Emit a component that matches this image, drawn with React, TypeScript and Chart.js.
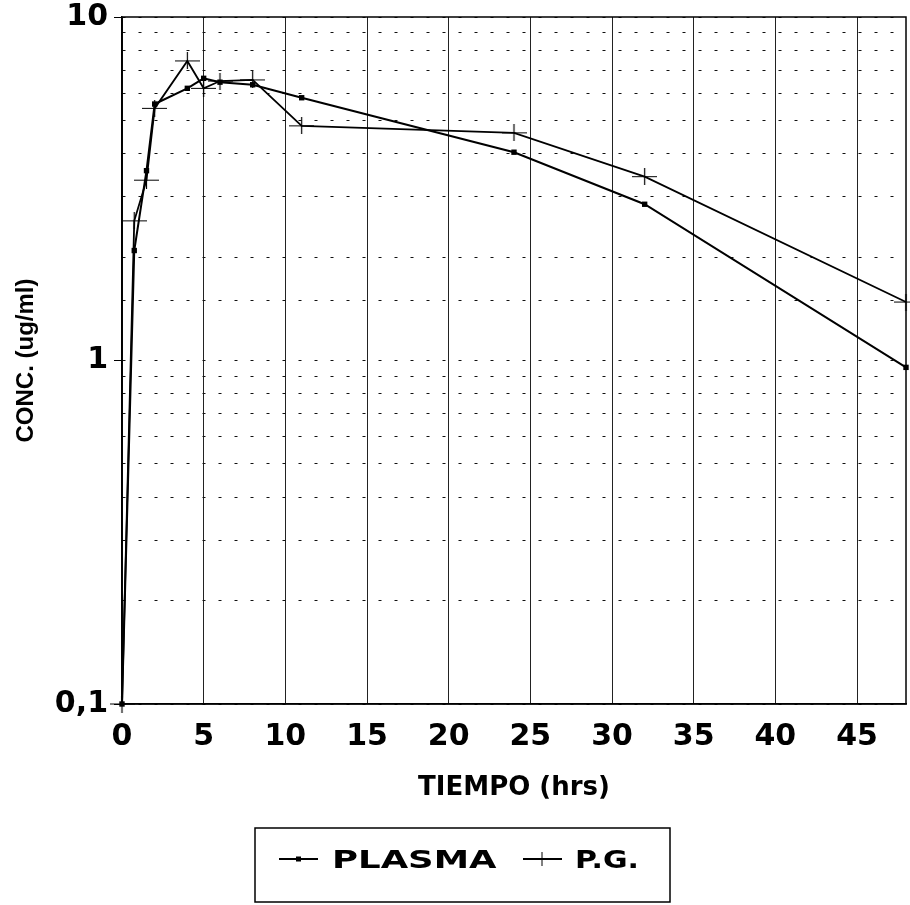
import React, { useEffect, useRef } from 'react';
import { Chart, registerables } from 'chart.js';

Chart.register(...registerables);

// ---- data ----
const timesPlasma = [0, 0.75, 1.5, 2, 4, 5, 6, 8, 11, 24, 32, 48];
const plasmaValues = [0.1, 2.09, 3.57, 5.58, 6.2, 6.63, 6.46, 6.35, 5.82, 4.04, 2.85, 0.955];
const timesPG = [0, 0.75, 1.5, 2, 4, 5, 6, 8, 11, 24, 32, 48];
const pgValues = [0.1, 2.55, 3.35, 5.42, 7.45, 6.2, 6.51, 6.56, 4.82, 4.6, 3.43, 1.48];
const seriesLabels = ['PLASMA', 'P.G.'];
const xMin = 0;
const xMax = 48;
const xStep = 5;
const yMajorTicks = [0.1, 1, 10];
const yMajorLabels = ['0,1', '1', '10'];
const xTitle = 'TIEMPO (hrs)';
const yTitle = 'CONC. (ug/ml)';

const TICK_FONT = { family: 'DejaVu Sans', weight: 'bold' as const, size: 30 };

function majorIndex(v: number): number {
  for (let i = 0; i < yMajorTicks.length; i++) {
    if (Math.abs(Math.log10(v) - Math.log10(yMajorTicks[i])) < 1e-6) return i;
  }
  return -1;
}

function makeCrossMarker(): HTMLCanvasElement {
  const c = document.createElement('canvas');
  c.width = 25;
  c.height = 17;
  const g = c.getContext('2d')!;
  g.strokeStyle = '#000';
  g.lineWidth = 1.2;
  g.beginPath();
  g.moveTo(0, 8.5);
  g.lineTo(25, 8.5);
  g.moveTo(12.5, 0);
  g.lineTo(12.5, 17);
  g.stroke();
  return c;
}

const framePlugin = {
  id: 'frame',
  afterDatasetsDraw(chart: any) {
    const { ctx, chartArea } = chart;
    ctx.save();
    ctx.strokeStyle = '#000';
    ctx.lineWidth = 1.5;
    ctx.strokeRect(chartArea.left, chartArea.top, chartArea.right - chartArea.left, chartArea.bottom - chartArea.top);
    ctx.restore();
  },
};

const boxLegendPlugin = {
  id: 'boxLegend',
  afterDraw(chart: any) {
    const ctx = chart.ctx;
    const ds = chart.data.datasets;
    const bx = 255, by = 828, bw = 415, bh = 74;
    ctx.save();
    ctx.strokeStyle = '#000';
    ctx.lineWidth = 1.5;
    ctx.strokeRect(bx, by, bw, bh);
    const cy = 859;
    ctx.font = 'bold 25px "DejaVu Sans"';
    ctx.fillStyle = '#000';
    ctx.textBaseline = 'alphabetic';
    // PLASMA entry
    ctx.lineWidth = 1.8;
    ctx.beginPath();
    ctx.moveTo(279, cy);
    ctx.lineTo(318, cy);
    ctx.stroke();
    ctx.fillRect(296, cy - 2.5, 5, 5);
    ctx.save();
    ctx.translate(332, cy + 9);
    ctx.scale(1.42, 1);
    ctx.fillText(ds[0].label, 0, 0);
    ctx.restore();
    // P.G. entry
    ctx.beginPath();
    ctx.moveTo(523, cy);
    ctx.lineTo(562, cy);
    ctx.stroke();
    ctx.lineWidth = 1;
    ctx.beginPath();
    ctx.moveTo(542, cy - 7);
    ctx.lineTo(542, cy + 7);
    ctx.stroke();
    ctx.save();
    ctx.translate(575, cy + 9);
    ctx.scale(1.2, 1);
    ctx.fillText(ds[1].label, 0, 0);
    ctx.restore();
    ctx.restore();
  },
};

export default function App() {
  const canvasRef = useRef<HTMLCanvasElement | null>(null);

  useEffect(() => {
    const canvas = canvasRef.current;
    if (!canvas) return;
    const cross = makeCrossMarker();
    const chart = new Chart(canvas, {
      type: 'line',
      data: {
        datasets: [
          {
            label: seriesLabels[0],
            data: timesPlasma.map((t, i) => ({ x: t, y: plasmaValues[i] })),
            borderColor: '#000',
            backgroundColor: '#000',
            borderWidth: 2,
            pointStyle: 'rect',
            pointRadius: 3.8,
            pointBorderWidth: 0,
            tension: 0,
            clip: false,
          },
          {
            label: seriesLabels[1],
            data: timesPG.map((t, i) => ({ x: t, y: pgValues[i] })),
            borderColor: '#000',
            backgroundColor: '#000',
            borderWidth: 1.8,
            pointStyle: cross,
            pointRadius: 9,
            pointBorderWidth: 1,
            tension: 0,
            clip: false,
          },
        ],
      },
      options: {
        animation: false,
        responsive: false,
        devicePixelRatio: 1,
        layout: { autoPadding: false, padding: { top: 17, right: 4, bottom: 95, left: 0 } },
        plugins: {
          legend: { display: false },
          tooltip: { enabled: false },
        },
        scales: {
          x: {
            type: 'linear',
            min: xMin,
            max: xMax,
            ticks: {
              stepSize: xStep,
              includeBounds: false,
              autoSkip: false,
              maxRotation: 0,
              color: '#000',
              font: TICK_FONT,
              padding: 15,
            },
            grid: { color: '#222', lineWidth: 1, drawTicks: false },
            border: { color: '#000', width: 1.5 },
            title: {
              display: true,
              text: xTitle,
              color: '#000',
              font: { family: 'DejaVu Sans', weight: 'bold', size: 26 },
              padding: { top: 0, bottom: 6 },
            },
            afterFit: (s: any) => {
              s.height = 106;
              s.paddingLeft = 0;
              s.paddingRight = 0;
            },
          },
          y: {
            type: 'logarithmic',
            min: 0.1,
            max: 10,
            ticks: {
              autoSkip: false,
              color: '#000',
              font: TICK_FONT,
              padding: 6,
              callback: (v: any) => {
                const i = majorIndex(Number(v));
                return i >= 0 ? yMajorLabels[i] : '';
              },
            },
            grid: {
              color: '#111',
              lineWidth: 1,
              tickLength: 8,
              tickColor: (c: any) => (c.tick && majorIndex(c.tick.value) >= 0 ? '#000' : 'rgba(0,0,0,0)'),
            },
            border: { color: '#000', width: 1.5, dash: [3, 13] },
            title: {
              display: true,
              text: yTitle,
              color: '#000',
              font: { family: 'Liberation Sans', weight: 'bold', size: 24 },
              padding: { top: 12, bottom: 0 },
            },
            afterFit: (s: any) => {
              s.width = 122;
              s.paddingTop = 0;
              s.paddingBottom = 0;
            },
          },
        },
      } as any,
      plugins: [framePlugin, boxLegendPlugin],
    });
    return () => chart.destroy();
  }, []);

  return (
    <div style={{ position: 'absolute', left: 0, top: 0, width: 910, height: 905, background: '#fff' }}>
      <canvas ref={canvasRef} width={910} height={905} style={{ display: 'block' }} />
    </div>
  );
}
